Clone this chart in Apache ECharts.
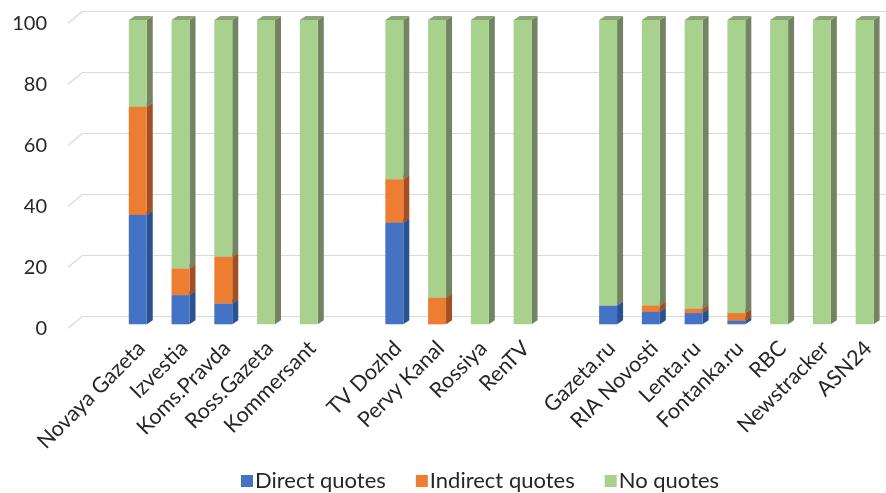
<!DOCTYPE html>
<html>
<head>
<meta charset="utf-8">
<script src="https://cdn.jsdelivr.net/npm/echarts@6/dist/echarts.min.js"></script>
<style>
html,body{margin:0;padding:0;background:#fff;}
#c{width:886px;height:493px;}
</style>
</head>
<body>
<div id="c"></div>
<script>
var categories = ['Novaya Gazeta','Izvestia','Koms.Pravda','Ross.Gazeta','Kommersant','','TV Dozhd','Pervy Kanal','Rossiya','RenTV','','Gazeta.ru','RIA Novosti','Lenta.ru','Fontanka.ru','RBC','Newstracker','ASN24'];
var directQuotes   = [36.0, 9.6, 6.8, 0, 0, null, 33.4, 0, 0, 0, null, 6.1, 4.1, 3.7, 1.2, 0, 0, 0];
var indirectQuotes = [35.5, 8.7, 15.4, 0, 0, null, 14.3, 8.7, 0, 0, null, 0, 2.1, 1.4, 2.5, 0, 0, 0];
var noQuotes       = [28.5, 81.7, 77.8, 100, 100, null, 52.3, 91.3, 100, 100, null, 93.9, 93.8, 94.9, 96.3, 100, 100, 100];
var yTicks = [0, 20, 40, 60, 80, 100];
var seriesNames = ['Direct quotes', 'Indirect quotes', 'No quotes'];

var FONT = 'Lato';
var frontColors = ['#4472c4', '#ed7d31', '#a9d18e'];
var sideColors  = ['#2a5291', '#a24f24', '#738462'];
var topColors   = ['#3a63ad', '#d06a2a', '#8aa676'];
var DX = 6, DY = -4;

var allSeries = [directQuotes, indirectQuotes, noQuotes];

function buildData(k) {
  var out = [];
  for (var i = 0; i < categories.length; i++) {
    var v = allSeries[k][i];
    if (v == null) continue;
    var base = 0;
    for (var j = 0; j < k; j++) base += (allSeries[j][i] || 0);
    out.push([i, base, v]);
  }
  return out;
}

function makeRender(k) {
  return function (params, api) {
    var idx = api.value(0), base = api.value(1), val = api.value(2);
    if (!val) return null;
    var p0 = api.coord([idx, base]);
    var p1 = api.coord([idx, base + val]);
    var w = api.size([1, 0])[0] * 0.42;
    var xl = p0[0] - w / 2, xr = p0[0] + w / 2;
    var yb = p0[1], yt = p1[1];
    var children = [
      { type: 'polygon', shape: { points: [[xr, yb], [xr + DX, yb + DY], [xr + DX, yt + DY], [xr, yt]] }, style: { fill: sideColors[k] } },
      { type: 'polygon', shape: { points: [[xl, yt], [xr, yt], [xr + DX, yt + DY], [xl + DX, yt + DY]] }, style: { fill: topColors[k] } },
      { type: 'rect', shape: { x: xl, y: yt, width: w, height: yb - yt }, style: { fill: frontColors[k] } }
    ];
    return { type: 'group', children: children };
  };
}

var chart = echarts.init(document.getElementById('c'), null, { renderer: 'canvas' });

var series = [];
for (var k = 0; k < 3; k++) {
  series.push({
    name: seriesNames[k],
    type: 'custom',
    xAxisIndex: 2,
    yAxisIndex: 2,
    itemStyle: { color: frontColors[k] },
    renderItem: makeRender(k),
    encode: { x: 0, y: [1, 2] },
    data: buildData(k),
    z: 3 + k
  });
}

chart.setOption({
  animation: false,
  textStyle: { fontFamily: FONT },
  legend: {
    data: seriesNames,
    top: 465,
    left: 236,
    icon: 'rect',
    itemWidth: 12,
    itemHeight: 12,
    itemGap: 30,
    textStyle: { fontFamily: FONT, fontSize: 22, color: '#262626', padding: [0, 0, 0, -3] }
  },
  grid: [
    { left: 82, right: 0, top: 11.7, height: 305 },
    { left: 68, right: 0, top: 23.3, height: 305 },
    { left: 116.4, width: 776, top: 20, height: 304.3 }
  ],
  xAxis: [
    { gridIndex: 0, type: 'value', show: false },
    { gridIndex: 1, type: 'value', show: false },
    {
      gridIndex: 2, type: 'category', data: categories,
      axisLine: { show: false }, axisTick: { show: false },
      axisLabel: { interval: 0, rotate: 45, margin: 24, fontFamily: FONT, fontSize: 21.5, color: '#262626', padding: [0, -5, 0, 0] }
    }
  ],
  yAxis: [
    {
      gridIndex: 0, type: 'value', min: 0, max: 100, interval: 20,
      axisLabel: { show: false }, axisLine: { show: false }, axisTick: { show: false },
      splitLine: { show: true, lineStyle: { color: '#d9d9d9', width: 1.2 } }
    },
    {
      gridIndex: 1, type: 'value', min: 0, max: 100, interval: 20,
      axisLabel: { show: true, margin: 21, fontFamily: FONT, fontSize: 20, color: '#262626' },
      axisLine: { show: false }, axisTick: { show: false }, splitLine: { show: false }
    },
    { gridIndex: 2, type: 'value', min: 0, max: 100, show: false, splitLine: { show: false } }
  ],
  series: series
});

// diagonal floor/wall connectors of the gridlines
var diag = [];
yTicks.forEach(function (v) {
  var back = chart.convertToPixel({ xAxisIndex: 0, yAxisIndex: 0 }, [0, v]);
  var front = chart.convertToPixel({ xAxisIndex: 1, yAxisIndex: 1 }, [0, v]);
  diag.push({
    type: 'line',
    shape: { x1: front[0], y1: front[1], x2: back[0], y2: back[1] },
    style: { stroke: '#d9d9d9', lineWidth: 1.2 },
    silent: true
  });
});
chart.setOption({ graphic: diag });
</script>
</body>
</html>
